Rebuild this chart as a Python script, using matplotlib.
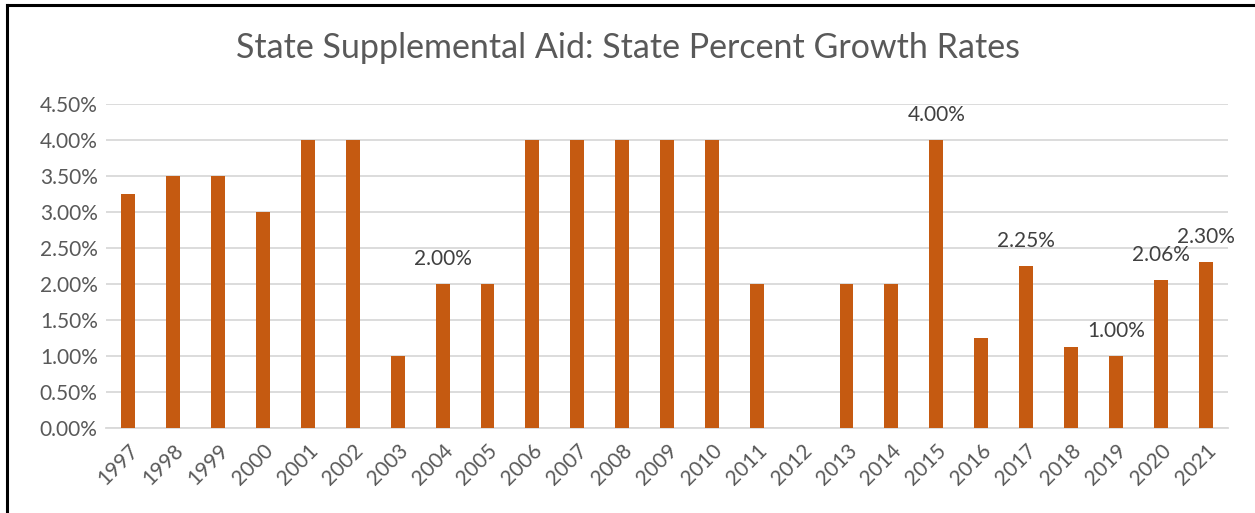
import matplotlib
matplotlib.use("Agg")
import matplotlib.pyplot as plt
from matplotlib.lines import Line2D
from matplotlib.ticker import FuncFormatter, MultipleLocator

years = ["1997", "1998", "1999", "2000", "2001", "2002", "2003", "2004", "2005",
         "2006", "2007", "2008", "2009", "2010", "2011", "2012", "2013", "2014",
         "2015", "2016", "2017", "2018", "2019", "2020", "2021"]
rates = [3.25, 3.50, 3.50, 3.00, 4.00, 4.00, 1.00, 2.00, 2.00,
         4.00, 4.00, 4.00, 4.00, 4.00, 2.00, 0.00, 2.00, 2.00,
         4.00, 1.25, 2.25, 1.12, 1.00, 2.06, 2.30]
labeled_years = ["2004", "2015", "2017", "2019", "2020", "2021"]

title = "State Supplemental Aid: State Percent Growth Rates"
bar_color = "#C55A11"
text_color = "#595959"
font = ["Lato", "DejaVu Sans"]

W, H = 1255, 513
fig = plt.figure(figsize=(W / 100, H / 100), dpi=100)
ax = fig.add_axes([106 / W, 1 - 428 / H, (1228 - 106) / W, (428 - 104) / H])

x = list(range(len(years)))
ax.bar(x, rates, width=0.31, color=bar_color, zorder=3)

for i, (yr, v) in enumerate(zip(years, rates)):
    if yr in labeled_years:
        ax.annotate(f"{v:.2f}%", (i, v), xytext=(0, 18), textcoords="offset points",
                    ha="center", va="center", fontsize=15, color="#404040", family=font)

ax.set_xlim(-0.5, len(years) - 0.5)
ax.set_ylim(0, 4.5)
ax.yaxis.set_major_locator(MultipleLocator(0.5))
ax.yaxis.set_major_formatter(FuncFormatter(lambda v, p: f"{v:.2f}%"))
ax.grid(axis="y", color="#D9D9D9", linewidth=1.3, zorder=0)
ax.set_axisbelow(True)
for s in ["top", "right", "left"]:
    ax.spines[s].set_visible(False)
ax.spines["bottom"].set_color("#D9D9D9")
ax.spines["bottom"].set_linewidth(1.3)

ax.set_xticks(x)
ax.set_xticklabels(years, rotation=45, ha="right", rotation_mode="anchor",
                   fontsize=15, color=text_color, family=font)
ax.tick_params(axis="both", length=0, pad=6)
ax.tick_params(axis="x", pad=9)
for lbl in ax.get_yticklabels():
    lbl.set_fontsize(15)
    lbl.set_color(text_color)
    lbl.set_family(font)

fig.text(0.5, 1 - 48 / H, title, ha="center", va="center", fontsize=24.5,
         color=text_color, family=font)

fig.add_artist(Line2D([7 / W, 7 / W], [0, 1 - 5 / H], color="black", linewidth=2.2,
                      transform=fig.transFigure))
fig.add_artist(Line2D([7 / W, 1], [1 - 5 / H, 1 - 5 / H], color="black", linewidth=2.2,
                      transform=fig.transFigure))

fig.savefig("out.png", dpi=100)
